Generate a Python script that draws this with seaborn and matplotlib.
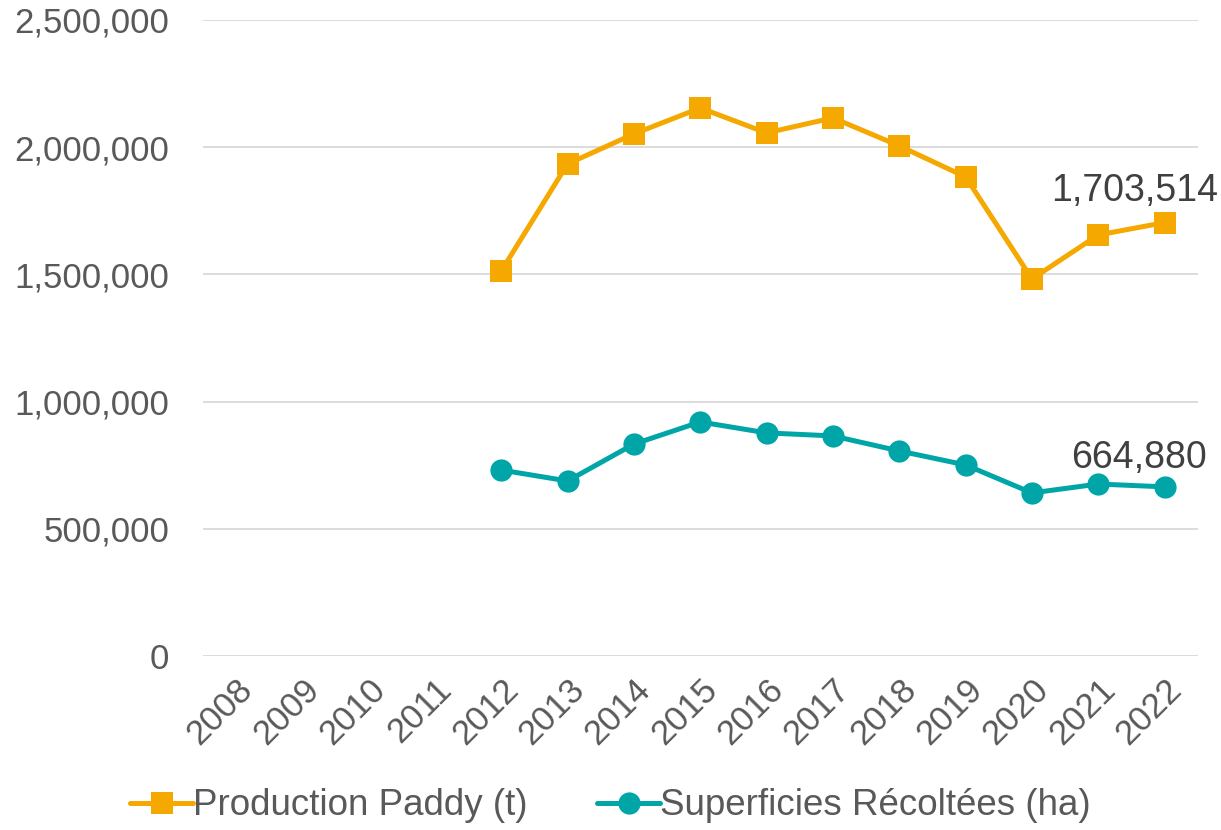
import pandas as pd
import matplotlib.pyplot as plt
import seaborn as sns
from matplotlib.ticker import FuncFormatter

YEARS_AXIS = list(range(2008, 2023))
YEARS = [2012, 2013, 2014, 2015, 2016, 2017, 2018, 2019, 2020, 2021, 2022]
PRODUCTION = [1513000, 1934000, 2052000, 2154000, 2056000, 2115000,
              2005000, 1883000, 1482000, 1655000, 1703514]
SUPERFICIE = [731000, 688000, 833000, 920000, 877000, 865000,
              806000, 751000, 641000, 676000, 664880]
LABELS = ['Production Paddy (t)', 'Superficies Récoltées (ha)']

ORANGE = '#F5A800'
TEAL = '#00A5A8'
GREY = '#595959'

sns.set_style('white')
plt.rcParams['font.family'] = ['Liberation Sans', 'DejaVu Sans']

df = pd.DataFrame({
    'year': YEARS * 2,
    'value': PRODUCTION + SUPERFICIE,
    'serie': [LABELS[0]] * len(YEARS) + [LABELS[1]] * len(YEARS),
})

fig = plt.figure(figsize=(12.21, 8.3), dpi=100)
ax = fig.add_axes([0.166, 0.2096, 0.815, 0.7664])

sns.lineplot(data=df, x='year', y='value', hue='serie', style='serie',
             hue_order=LABELS, style_order=LABELS,
             palette=[ORANGE, TEAL], markers=['s', 'o'], dashes=False,
             markersize=16, markeredgewidth=0, linewidth=3.6, ax=ax)

ax.set_xlim(YEARS_AXIS[0] - 0.5, YEARS_AXIS[-1] + 0.5)
ax.set_ylim(0, 2500000)
ax.set_yticks(range(0, 2500001, 500000))
ax.yaxis.set_major_formatter(FuncFormatter(lambda v, p: f'{int(v):,}'))
ax.set_xticks(YEARS_AXIS)
ax.set_xticklabels([str(y) for y in YEARS_AXIS], rotation=45,
                   ha='right', rotation_mode='anchor')
ax.tick_params(axis='both', colors=GREY, labelsize=25, length=0)
ax.tick_params(axis='y', pad=24)
ax.tick_params(axis='x', pad=12)
ax.grid(axis='y', color='#D9D9D9', linewidth=1.3)
for s in ax.spines.values():
    s.set_visible(False)
ax.set_xlabel('')
ax.set_ylabel('')

# last value labels
ax.text(2022.8, 1790000, f'{PRODUCTION[-1]:,}',
        ha='right', va='baseline', fontsize=27, color='#404040')
ax.text(2022.63, 739000, f'{SUPERFICIE[-1]:,}',
        ha='right', va='baseline', fontsize=27, color='#404040')

handles, labels = ax.get_legend_handles_labels()
ax.get_legend().remove()
for h in handles:
    h.set_markersize(16)
fig.legend(handles, labels, loc='lower center', bbox_to_anchor=(0.5, -0.032),
           ncol=2, frameon=False, fontsize=26.5, labelcolor=GREY,
           handlelength=1.7, handletextpad=0.0, columnspacing=1.9)

fig.savefig('out.png', dpi=100)
